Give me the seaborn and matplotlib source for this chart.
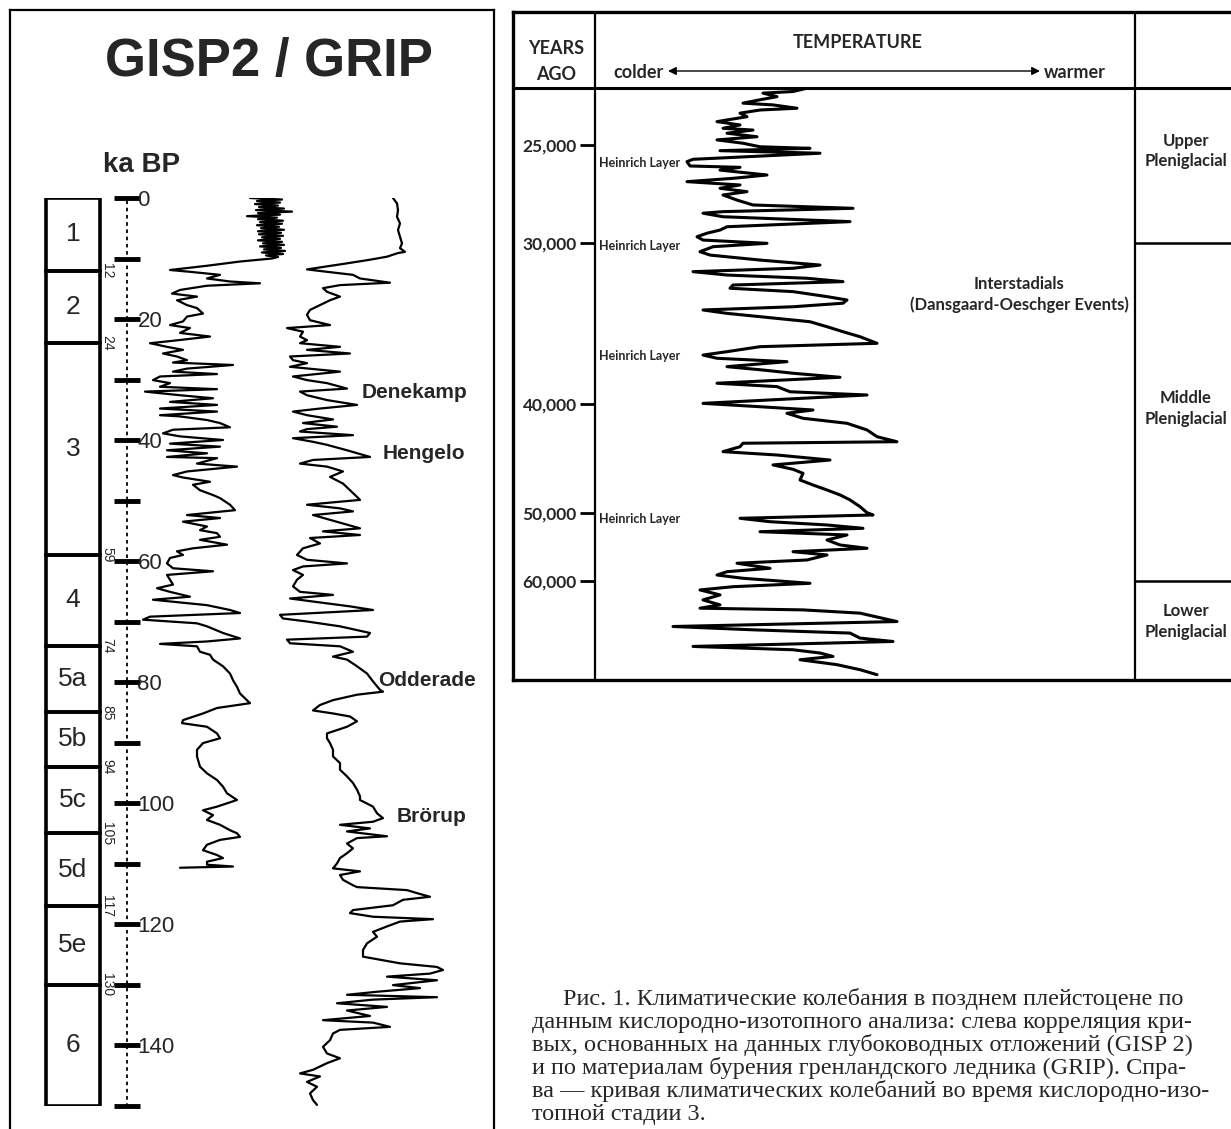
import numpy as np
import pandas as pd
import matplotlib
matplotlib.use("Agg")
import matplotlib.pyplot as plt
from matplotlib.patches import Rectangle
import seaborn as sns

# ---------------- left panel: GISP2 / GRIP (ka BP) ----------------
stage_bounds = [0, 12, 24, 59, 74, 85, 94, 105, 117, 130, 150]
stage_names = ["1", "2", "3", "4", "5a", "5b", "5c", "5d", "5e", "6"]
age_ticks = [0, 10, 20, 30, 40, 50, 60, 70, 80, 90, 100, 110, 120, 130, 140, 150]
age_ticklabels = ["0", "", "20", "", "40", "", "60", "", "80", "", "100", "", "120", "", "140", ""]

events = ["Denekamp", "Hengelo", "Odderade", "Brörup"]
event_ages = [32.2, 42.3, 79.7, 102.3]

# GISP2 curve (relative temperature units vs. ka)
gisp2_age = [0.0, 0.25, 0.5, 0.75, 1.0, 1.25, 1.5, 1.75, 2.0, 2.25, 2.5, 2.75, 3.0, 3.25,
             3.5, 3.75, 4.0, 4.25, 4.5, 4.75, 5.0, 5.25, 5.5, 5.75, 6.0, 6.25, 6.5, 6.75,
             7.0, 7.25, 7.5, 7.75, 8.0, 8.25, 8.5, 8.75, 9.0, 9.25, 9.5, 9.75, 10.0,
             10.5, 11.2, 11.9, 12.2, 12.7, 13.3, 13.8, 14.1, 14.5, 15.2, 15.8, 16.3, 16.9,
             17.7, 18.2, 19.1, 19.6, 20.4, 21.0, 21.5, 22.3, 22.9, 23.6, 24.0, 24.6, 25.1,
             25.7, 26.2, 26.8, 27.2, 27.6, 28.2, 28.7, 29.1, 29.5, 30.1, 30.6, 31.2, 31.6,
             32.0, 32.6, 33.1, 33.7, 34.2, 34.8, 35.3, 35.9, 36.1, 36.7, 37.2, 37.9, 38.3,
             38.9, 39.4, 40.0, 40.6, 41.1, 41.7, 42.2, 42.8, 43.0, 43.9, 44.4, 45.2, 45.8,
             46.2, 46.9, 47.4, 48.3, 49.1, 49.6, 50.7, 51.6, 52.4, 52.9, 53.5, 54.3, 54.9,
             55.4, 56.0, 56.5, 57.3, 57.9, 58.4, 59.0, 59.5, 60.4, 61.2, 61.7, 62.3, 63.1,
             63.9, 64.5, 65.1, 65.9, 66.4, 67.3, 68.1, 68.6, 69.2, 69.7, 70.3, 70.8, 71.9,
             72.8, 73.3, 73.7, 74.1, 75.0, 75.5, 76.3, 77.4, 78.6, 79.7, 80.8, 81.9, 83.5,
             84.3, 85.2, 86.3, 86.8, 87.4, 88.5, 89.3, 90.1, 91.2, 92.3, 94.0, 95.1, 96.2,
             97.3, 98.4, 99.5, 100.6, 101.2, 102.0, 102.8, 103.6, 104.5, 105.0, 105.6,
             106.1, 106.9, 107.8, 108.6, 109.1, 109.7, 110.2, 110.5, 110.7]
gisp2_val = [250, 282, 257, 280, 255, 278, 259, 284, 256, 292, 258, 280, 247, 277,
             258, 283, 260, 282, 257, 279, 261, 284, 258, 281, 259, 283, 262, 280,
             258, 282, 263, 284, 260, 281, 264, 285, 262, 283, 266, 278, 272,
             240, 207, 170, 190, 220, 207, 230, 260, 207, 180, 172, 197, 177,
             187, 197, 203, 187, 183, 170, 190, 180, 210, 173, 150, 167, 183,
             163, 177, 187, 173, 233, 187, 173, 217, 160, 153, 170, 160, 217,
             145, 180, 213, 170, 217, 160, 217, 160, 180, 207, 220, 230, 173,
             163, 180, 223, 170, 220, 167, 207, 167, 217, 197, 237, 187, 173,
             183, 210, 193, 200, 213, 220, 230, 235, 187, 220, 183, 207, 200,
             217, 220, 200, 227, 193, 177, 183, 170, 167, 173, 213, 167, 170,
             173, 157, 170, 190, 153, 207, 230, 240, 150, 143, 197, 207, 223,
             240, 207, 160, 197, 200, 210, 213, 223, 230, 233, 237, 240, 250,
             217, 203, 183, 182, 207, 217, 220, 203, 197, 197, 200, 207, 217,
             223, 227, 237, 217, 203, 213, 207, 220, 230, 237, 240,
             220, 207, 203, 217, 223, 207, 207, 233, 180]

# GRIP curve
grip_age = [0.0, 0.9, 2.0, 3.1, 4.2, 5.3, 6.4, 7.5, 8.3, 8.9, 9.1, 9.7, 10.2, 10.8, 11.3,
            11.8, 12.2, 12.7, 13.3, 14.0, 14.4, 14.9, 15.5, 16.3, 16.9, 17.7, 18.5, 19.3,
            20.2, 21.0, 21.5, 22.1, 22.9, 23.5, 24.0, 24.6, 25.1, 25.7, 26.2, 26.8, 27.3,
            27.9, 28.7, 29.5, 30.1, 30.6, 31.5, 32.0, 32.6, 33.4, 34.2, 34.8, 35.3, 35.9,
            36.6, 37.2, 37.8, 38.2, 38.6, 39.2, 39.7, 40.3, 40.8, 41.7, 42.8, 43.3, 43.9,
            44.4, 45.2, 46.1, 47.2, 48.3, 49.4, 49.9, 50.7, 51.3, 51.8, 52.4, 53.2, 54.0,
            54.6, 55.1, 55.7, 56.2, 57.1, 57.9, 59.0, 59.8, 60.4, 60.9, 61.5, 62.3, 63.1,
            64.2, 65.1, 65.6, 66.2, 67.0, 67.5, 68.1, 68.9, 69.5, 70.0, 70.8, 71.9, 72.5,
            73.0, 73.6, 74.1, 75.0, 75.8, 76.3, 77.4, 78.6, 79.9, 81.3, 81.6, 82.1, 83.0,
            83.8, 84.7, 85.2, 85.7, 86.5, 87.4, 88.5, 89.3, 90.1, 91.2, 92.3, 93.4, 94.5,
            95.6, 96.7, 97.8, 98.9, 99.5, 100.6, 101.7, 102.5, 103.1, 103.6, 104.2, 104.7,
            105.5, 105.8, 106.7, 107.5, 108.3, 109.1, 110.0, 110.8, 111.3, 111.9, 112.7,
            113.6, 113.9, 114.4, 114.9, 115.5, 116.0, 116.9, 117.7, 118.2, 118.8, 119.2,
            119.6, 120.4, 121.3, 122.1, 123.2, 124.3, 125.4, 126.5, 127.1, 127.6, 128.2,
            128.7, 129.3, 130.1, 130.6, 131.2, 131.7, 132.1, 132.5, 133.1, 133.7, 134.3,
            135.2, 135.9, 136.3, 137.0, 137.5, 138.1, 139.2, 140.3, 141.4, 142.2, 143.0,
            144.1, 144.7, 145.2, 146.1, 146.9, 148.0, 149.1, 149.9]
grip_val = [393, 397, 398, 397, 400, 398, 400, 402, 400, 405, 398, 387, 370, 347, 327,
            307, 327, 353, 360, 390, 340, 323, 327, 340, 330, 320, 310, 307,
            310, 330, 287, 303, 300, 307, 300, 340, 307, 350, 290, 293, 307,
            290, 340, 293, 307, 327, 347, 300, 307, 327, 357, 320, 293, 307,
            333, 303, 337, 307, 300, 353, 293, 313, 327, 347, 370, 313, 300,
            327, 343, 330, 343, 350, 357, 360, 307, 340, 353, 313, 330, 347,
            360, 323, 360, 310, 320, 303, 297, 307, 347, 303, 293, 303, 297,
            293, 300, 333, 290, 327, 350, 373, 280, 283, 307, 340, 370, 367,
            287, 290, 340, 353, 333, 347, 357, 367, 373, 380, 383, 357, 333,
            320, 313, 333, 350, 357, 347, 327, 327, 330, 333, 333, 340, 340,
            347, 353, 357, 360, 360, 373, 377, 383, 373, 340, 370, 347,
            387, 357, 347, 353, 347, 340, 337, 333, 360, 340, 343,
            353, 357, 407, 417, 430, 403, 393, 353, 350, 373, 433,
            400, 387, 373, 377, 367, 363, 363, 400, 437, 443, 430,
            387, 437, 393, 420, 377, 347, 437, 373, 337, 387, 347,
            370, 323, 373, 390, 340, 333, 330, 323, 327, 340, 327,
            313, 300, 320, 307, 317, 310, 313, 317]

# ---------------- right panel: oxygen isotope stage 3 ----------------
ms_age = [22.11, 22.28, 22.36, 22.54, 22.70, 22.87, 22.96, 23.13, 23.22, 23.38, 23.56,
          23.81, 23.98, 24.15, 24.24, 24.40, 24.58, 24.74, 24.91, 25.09, 25.17, 25.29,
          25.42, 25.60, 25.73, 25.85, 26.07, 26.14, 26.28, 26.53, 26.70, 26.87, 27.04,
          27.21, 27.38, 27.55, 27.81, 28.06, 28.23, 28.40, 28.48, 28.66, 28.91, 29.17,
          29.34, 29.50, 29.68, 29.85, 30.02, 30.23, 30.54, 30.75, 31.06, 31.37, 31.57,
          31.78, 31.99, 32.19, 32.40, 32.61, 32.81, 33.02, 33.33, 33.54, 33.74, 33.96,
          34.16, 34.37, 34.68, 34.89, 35.20, 35.51, 35.82, 36.23, 36.44, 36.75, 36.96,
          37.16, 37.37, 37.68, 37.89, 38.09, 38.34, 38.71, 38.92, 39.24, 39.44, 39.75,
          39.96, 40.25, 40.55, 40.85, 41.31, 41.77, 42.38, 43.00, 43.46, 43.60, 43.92,
          44.37, 44.68, 45.14, 45.59, 45.99, 46.36, 46.97, 47.43, 47.89, 48.34, 48.80,
          49.42, 49.97, 50.29, 50.78, 51.28, 51.76, 52.25, 52.75, 53.23, 53.97, 54.70,
          55.19, 55.69, 56.17, 56.91, 57.39, 58.13, 58.63, 59.12, 59.60, 60.34, 60.84,
          61.32, 62.05, 62.79, 63.52, 64.01, 64.26, 64.74, 65.98, 66.71, 67.20, 67.68,
          68.42, 68.92, 69.65, 70.14, 70.62, 71.12, 71.61, 72.34, 73.08, 73.82]
ms_val = [807, 793, 763, 777, 760, 743, 773, 797, 760, 740, 747,
          717, 740, 723, 753, 727, 757, 717, 743, 760, 810, 720,
          820, 747, 693, 687, 690, 740, 720, 767, 733, 687, 740,
          720, 747, 723, 737, 753, 853, 723, 703, 723, 850, 727,
          720, 707, 697, 703, 767, 713, 700, 710, 760, 820, 793,
          693, 727, 807, 843, 733, 730, 793, 827, 847, 843, 793,
          703, 727, 777, 810, 827, 843, 860, 877, 760, 727, 703,
          717, 787, 727, 763, 793, 840, 717, 777, 790, 867, 770,
          703, 760, 813, 787, 803, 847, 867, 877, 897, 743, 740,
          723, 777, 830, 773, 793, 803, 800, 813, 827, 840, 850,
          860, 867, 873, 740, 770, 827, 863, 760, 847, 827, 840,
          867, 793, 827, 807, 737, 770, 727, 717, 743, 810, 733,
          700, 720, 703, 720, 700, 803, 860, 897, 673, 753, 850,
          860, 893, 693, 793, 820, 833, 800, 837, 860, 877]

heinrich_ages = [25.9, 30.2, 37.0, 50.9]
year_ticks = [25, 30, 40, 50, 60]
period_bounds = [30, 60]
periods = ["Upper\nPleniglacial", "Middle\nPleniglacial", "Lower\nPleniglacial"]
period_label_ages = [25.3, 40.4, 66.0]
# non-linear (depth based) age axis of the right panel
scale_age = [22.1, 25, 30, 40, 50, 60, 74.6]
scale_depth = [0, 57, 155, 316, 425, 493, 592]

caption = [
    "Рис. 1. Климатические колебания в позднем плейстоцене по",
    "данным кислородно-изотопного анализа: слева корреляция кри-",
    "вых, основанных на данных глубоководных отложений (GISP 2)",
    "и по материалам бурения гренландского ледника (GRIP). Спра-",
    "ва — кривая климатических колебаний во время кислородно-изо-",
    "топной стадии 3.",
]

sns.set_theme(style="white")
plt.rcParams["font.family"] = ["Liberation Sans", "DejaVu Sans"]

W, H = 1231, 1129


def box(x0, y0, x1, y1):
    return [x0 / W, 1 - y1 / H, (x1 - x0) / W, (y1 - y0) / H]


fig = plt.figure(figsize=(W / 100, H / 100), dpi=100)
fig.patch.set_facecolor("white")

# ---------- left frame ----------
axLF = fig.add_axes(box(10, 10, 494, 1160))
axLF.set_xticks([])
axLF.set_yticks([])
axLF.patch.set_alpha(0)
for s in axLF.spines.values():
    s.set_linewidth(1.6)
    s.set_color("black")

fig.text(269 / W, 1 - 62 / H, "GISP2 / GRIP", ha="center", va="center",
         fontsize=38, fontweight="bold")
fig.text(142 / W, 1 - 165 / H, "ka BP", ha="center", va="center",
         fontsize=20, fontweight="bold")

# ---------- left data axes ----------
axL = fig.add_axes(box(10, 198, 494, 1105.5))
axL.patch.set_alpha(0)
gisp2 = pd.DataFrame({"age": gisp2_age, "val": gisp2_val})
grip = pd.DataFrame({"age": grip_age, "val": grip_val})
sns.lineplot(data=gisp2, x="val", y="age", sort=False, estimator=None,
             color="black", lw=1.6, ax=axL)
sns.lineplot(data=grip, x="val", y="age", sort=False, estimator=None,
             color="black", lw=1.6, ax=axL)
axL.set_xlim(10, 494)
axL.set_ylim(150, 0)
axL.set_xlabel("")
axL.set_ylabel("")
axL.set_xticks([])

for s in ["left", "top", "bottom"]:
    axL.spines[s].set_visible(False)
axL.spines["right"].set_position(("data", 127))
axL.spines["right"].set_linestyle((0, (1, 3)))
axL.spines["right"].set_linewidth(1.3)
axL.spines["right"].set_color("black")
axL.set_yticks(age_ticks)
axL.set_yticklabels(age_ticklabels)
axL.tick_params(axis="y", left=False, labelleft=False, right=True, labelright=True,
                direction="inout", length=19, width=3.5, pad=-2, labelsize=16,
                color="black")

# marine isotope stage column
for i, name in enumerate(stage_names):
    top, bot = stage_bounds[i], stage_bounds[i + 1]
    axL.add_patch(Rectangle((46, top), 54, bot - top, fill=False, lw=2.6,
                            edgecolor="black"))
    axL.text(73, (top + bot) / 2, name, ha="center", va="center", fontsize=19)
for b in stage_bounds[1:-1]:
    axL.text(107, b, str(b), ha="center", va="center", rotation=-90, fontsize=10)

event_x = [362, 383, 378, 397]
for name, a, x in zip(events, event_ages, event_x):
    axL.text(x, a, name, ha="left", va="center", fontsize=15, fontweight="bold")

# ---------- right frame ----------
axRF = fig.add_axes(box(513, 12, 1300, 680))
axRF.set_xlim(513, 1300)
axRF.set_ylim(680, 12)
axRF.set_xticks([])
axRF.set_yticks([])
axRF.patch.set_alpha(0)
for s in axRF.spines.values():
    s.set_linewidth(2.4)
    s.set_color("black")
axRF.axhline(88, color="black", lw=2.2)
axRF.axvline(595, color="black", lw=1.6)
axRF.axvline(1135, color="black", lw=1.6)

hfont = dict(family=["Lato", "DejaVu Sans"], fontweight="bold", fontsize=13)
axRF.text(556, 48, "YEARS", ha="center", va="center", **hfont)
axRF.text(556, 74, "AGO", ha="center", va="center", **hfont)
axRF.text(858, 43, "TEMPERATURE", ha="center", va="center", **hfont)
axRF.text(613, 72, "colder", ha="left", va="center", **hfont)
axRF.text(1044, 72, "warmer", ha="left", va="center", **hfont)
axRF.annotate("", xy=(668, 71), xytext=(1040, 71),
              arrowprops=dict(arrowstyle="<|-|>", color="black", lw=1.0,
                              mutation_scale=12, shrinkA=0, shrinkB=0))

# ---------- right data axes ----------
ext_age = [-1000] + scale_age + [1000]
top_slope = (scale_depth[1] - scale_depth[0]) / (scale_age[1] - scale_age[0])
bot_slope = (scale_depth[-1] - scale_depth[-2]) / (scale_age[-1] - scale_age[-2])
ext_depth = ([scale_depth[0] - (scale_age[0] + 1000) * top_slope] + scale_depth
             + [scale_depth[-1] + (1000 - scale_age[-1]) * bot_slope])


def fwd(a):
    return np.interp(a, ext_age, ext_depth)


def inv(d):
    return np.interp(d, ext_depth, ext_age)


axR = fig.add_axes(box(595, 88, 1135, 680))
axR.patch.set_alpha(0)
axR.set_yscale("function", functions=(fwd, inv))
ms = pd.DataFrame({"age": ms_age, "val": ms_val})
sns.lineplot(data=ms, x="val", y="age", sort=False, estimator=None,
             color="black", lw=2.2, ax=axR)
axR.set_xlim(595, 1135)
axR.set_ylim(scale_age[-1], scale_age[0])
axR.set_xlabel("")
axR.set_ylabel("")
axR.set_xticks([])
axR.set_yticks(year_ticks)
axR.set_yticklabels([f"{int(t * 1000):,}" for t in year_ticks],
                    family=["Lato", "DejaVu Sans"], fontweight="bold")
axR.yaxis.set_minor_locator(matplotlib.ticker.NullLocator())
axR.tick_params(axis="y", left=True, direction="out", length=11, width=2,
                labelsize=12.5, pad=2, color="black")
for s in axR.spines.values():
    s.set_visible(False)

for a in heinrich_ages:
    axR.text(599, a, "Heinrich Layer", ha="left", va="center", fontsize=9,
             family=["Lato", "DejaVu Sans"], fontweight="bold")
axR.text(1019, 33.2, "Interstadials\n(Dansgaard-Oeschger Events)", ha="center",
         va="center", fontsize=12, linespacing=1.3, family=["Lato", "DejaVu Sans"],
         fontweight="bold")

ytr = axR.get_yaxis_transform()
for b in period_bounds:
    axR.plot([1, 1.3], [b, b], color="black", lw=1.8, transform=ytr, clip_on=False)
for name, a in zip(periods, period_label_ages):
    axR.text(1.094, a, name, ha="center", va="center", fontsize=12, linespacing=1.35,
             transform=ytr, family=["Lato", "DejaVu Sans"], fontweight="bold")

# ---------- caption ----------
cap_x = [563, 532, 532, 532, 532, 532]
cap_y = [1005, 1028, 1051, 1074, 1097, 1120]
for line, x, y in zip(caption, cap_x, cap_y):
    fig.text(x / W, 1 - y / H, line, ha="left", va="baseline", fontsize=17.5,
             family=["Liberation Serif", "DejaVu Serif"])

fig.savefig("out.png", dpi=100)
